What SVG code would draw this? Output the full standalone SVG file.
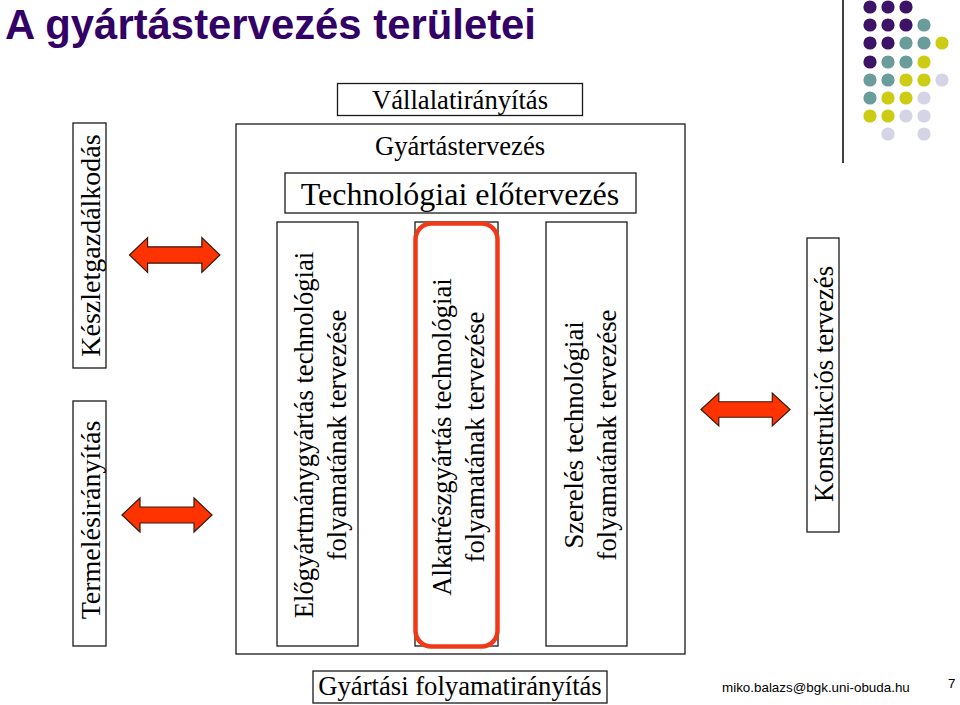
<svg xmlns="http://www.w3.org/2000/svg" xmlns:xlink="http://www.w3.org/1999/xlink" width="960" height="705" viewBox="0 0 960 705">
<style>
.box{fill:#fff;stroke:#1a1a1a;stroke-width:1.3}
.t{font-family:"Liberation Serif","Times New Roman",serif;fill:#000;text-anchor:middle}
.s27{font-size:26.67px}
.s28{font-size:28px}
.s32{font-size:32px}
.arrow{fill:#FF3300;stroke:#3a1a10;stroke-width:1.2;stroke-linejoin:miter}
.dP{fill:#3D1368}.dT{fill:#6B9C9C}.dY{fill:#CCCC14}.dL{fill:#D4D4E6}
</style>
<defs>
<path id="dbl" d="M0,0 L18,-17 L18,-8 L72,-8 L72,-17 L90,0 L72,17 L72,8 L18,8 L18,17 Z"/>
</defs>
<rect width="960" height="705" fill="#fff"/>

<g id="title">
<text x="5" y="39" font-family="'Liberation Sans',Arial,sans-serif" font-weight="bold" font-size="43" fill="#330066" textLength="531" lengthAdjust="spacingAndGlyphs">A gyártástervezés területei</text>
</g>

<g id="decoration">
<line x1="843" y1="0" x2="843" y2="163" stroke="#000" stroke-width="1.5"/>
<g id="dots">
<circle class="dP" cx="870" cy="7" r="6.6"/><circle class="dP" cx="888" cy="7" r="6.6"/><circle class="dP" cx="906" cy="7" r="6.6"/>
<circle class="dP" cx="870" cy="25" r="6.6"/><circle class="dP" cx="888" cy="25" r="6.6"/><circle class="dP" cx="906" cy="25" r="6.6"/><circle class="dT" cx="924" cy="25" r="6.6"/>
<circle class="dP" cx="870" cy="43" r="6.6"/><circle class="dP" cx="888" cy="43" r="6.6"/><circle class="dT" cx="906" cy="43" r="6.6"/><circle class="dT" cx="924" cy="43" r="6.6"/><circle class="dY" cx="942" cy="43" r="6.6"/>
<circle class="dP" cx="870" cy="62" r="6.6"/><circle class="dT" cx="888" cy="62" r="6.6"/><circle class="dT" cx="906" cy="62" r="6.6"/><circle class="dY" cx="924" cy="62" r="6.6"/>
<circle class="dT" cx="870" cy="80" r="6.6"/><circle class="dT" cx="888" cy="80" r="6.6"/><circle class="dY" cx="906" cy="80" r="6.6"/><circle class="dY" cx="924" cy="80" r="6.6"/><circle class="dL" cx="942" cy="80" r="6.6"/>
<circle class="dT" cx="870" cy="98" r="6.6"/><circle class="dY" cx="888" cy="98" r="6.6"/><circle class="dY" cx="906" cy="98" r="6.6"/><circle class="dL" cx="924" cy="98" r="6.6"/>
<circle class="dY" cx="870" cy="116" r="6.6"/><circle class="dY" cx="888" cy="116" r="6.6"/><circle class="dL" cx="906" cy="116" r="6.6"/><circle class="dL" cx="924" cy="116" r="6.6"/>
<circle class="dL" cx="888" cy="134" r="6.6"/><circle class="dL" cx="924" cy="134" r="6.6"/>
</g>
</g>

<g id="vallalatiranyitas">
<rect class="box" x="337.5" y="83.5" width="245" height="32"/>
<text class="t s27" x="460" y="108.5">Vállalatirányítás</text>
</g>

<g id="gyartastervezes">
<rect class="box" x="236" y="124" width="449" height="530"/>
<text class="t s27" x="460" y="155">Gyártástervezés</text>
</g>

<g id="technologiai-elotervezes">
<rect class="box" x="285" y="173" width="351" height="40"/>
<text class="t s32" x="460" y="205">Technológiai előtervezés</text>
</g>

<g id="elogyartmany">
<rect class="box" x="277" y="222" width="81" height="424"/>
<g transform="translate(317.5,435) rotate(-90)">
<text class="t s27" x="0" y="-5">Előgyártmánygyártás technológiai</text>
<text class="t s27" x="0" y="28.5">folyamatának tervezése</text>
</g>
</g>

<g id="alkatreszgyartas">
<rect class="box" x="415" y="222" width="83" height="424"/>
<rect x="415.5" y="223.5" width="82" height="423" rx="16" ry="16" fill="none" stroke="#EE3A18" stroke-width="4.5"/>
<g transform="translate(456.5,437) rotate(-90)">
<text class="t s27" x="0" y="-5.5">Alkatrészgyártás technológiai</text>
<text class="t s27" x="0" y="27.5">folyamatának tervezése</text>
</g>
</g>

<g id="szereles">
<rect class="box" x="546" y="222" width="81" height="424"/>
<g transform="translate(586.5,435) rotate(-90)">
<text class="t s27" x="0" y="-4">Szerelés technológiai</text>
<text class="t s27" x="0" y="29">folyamatának tervezése</text>
</g>
</g>

<g id="keszletgazdalkodas">
<rect class="box" x="73" y="123" width="33" height="245"/>
<text class="t s28" transform="translate(100,245.5) rotate(-90)" x="0" y="0">Készletgazdálkodás</text>
</g>

<g id="termelesiranyitas">
<rect class="box" x="73" y="401" width="33" height="245"/>
<text class="t s28" transform="translate(100,520) rotate(-90)" x="0" y="0">Termelésirányítás</text>
</g>

<g id="konstrukcios-tervezes">
<rect class="box" x="807" y="238" width="32" height="294"/>
<text class="t s27" transform="translate(832.5,384) rotate(-90)" x="0" y="0">Konstrukciós tervezés</text>
</g>

<g id="gyartasi-folyamatiranyitas">
<rect class="box" x="313" y="671" width="294" height="32"/>
<text class="t s27" x="460" y="695">Gyártási folyamatirányítás</text>
</g>

<g id="connectors">
<use href="#dbl" class="arrow" transform="translate(129.5,255) scale(1.005,1.02)"/>
<use href="#dbl" class="arrow" transform="translate(122,515) scale(1,1)"/>
<use href="#dbl" class="arrow" transform="translate(701,409.5) scale(0.99,0.97)"/>
</g>

<g id="footer">
<text x="722" y="692" font-family="'Liberation Sans',Arial,sans-serif" font-size="13.4" fill="#000">miko.balazs@bgk.uni-obuda.hu</text>
<text x="948" y="688" font-family="'Liberation Sans',Arial,sans-serif" font-size="13.4" fill="#000">7</text>
</g>
</svg>
